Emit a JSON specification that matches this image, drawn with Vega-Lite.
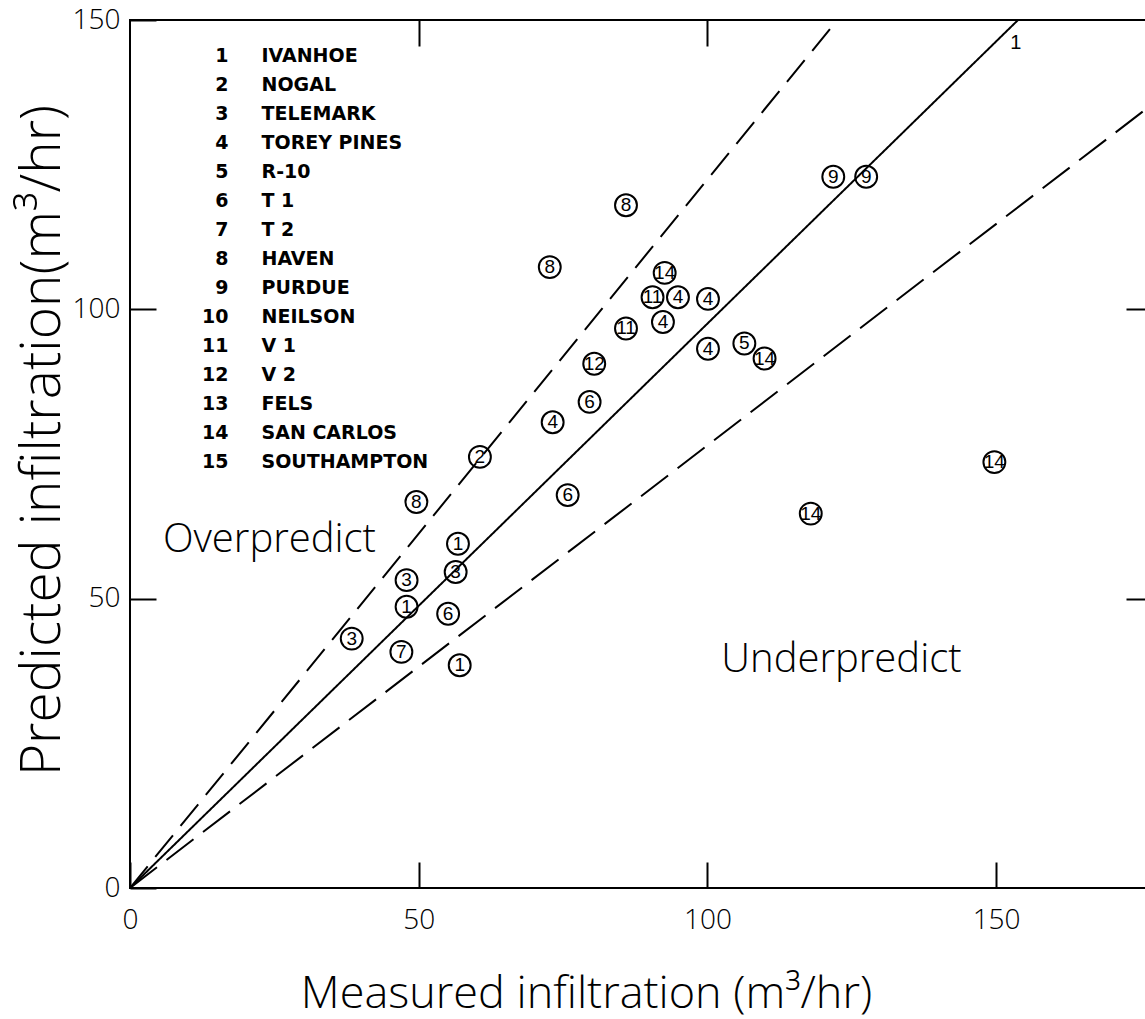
{
  "$schema": "https://vega.github.io/schema/vega-lite/v6.json",
  "width": 1022,
  "height": 868,
  "autosize": {"type": "none"},
  "padding": {"left": 130, "top": 20, "right": 0, "bottom": 131},
  "background": "white",
  "config": {
    "view": {"stroke": "black", "strokeWidth": 2},
    "axis": {"domain": false, "grid": false, "tickColor": "black", "tickWidth": 2, "labelColor": "black", "titleColor": "black", "labelFont": "Open Sans", "titleFont": "Open Sans", "labelFontWeight": 300, "titleFontWeight": 300}
  },
  "datasets": {
    "pts": [
      {"site": 8, "name": "HAVEN", "measured": 85.9, "predicted": 118.0},
      {"site": 8, "name": "HAVEN", "measured": 72.7, "predicted": 107.3},
      {"site": 9, "name": "PURDUE", "measured": 121.8, "predicted": 122.9},
      {"site": 9, "name": "PURDUE", "measured": 127.5, "predicted": 122.9},
      {"site": 14, "name": "SAN CARLOS", "measured": 92.6, "predicted": 106.3},
      {"site": 11, "name": "V 1", "measured": 90.5, "predicted": 102.1},
      {"site": 4, "name": "TOREY PINES", "measured": 94.9, "predicted": 102.1},
      {"site": 4, "name": "TOREY PINES", "measured": 100.1, "predicted": 101.8},
      {"site": 4, "name": "TOREY PINES", "measured": 92.3, "predicted": 97.8},
      {"site": 11, "name": "V 1", "measured": 85.9, "predicted": 96.7},
      {"site": 4, "name": "TOREY PINES", "measured": 100.1, "predicted": 93.2},
      {"site": 5, "name": "R-10", "measured": 106.4, "predicted": 94.1},
      {"site": 14, "name": "SAN CARLOS", "measured": 109.9, "predicted": 91.5},
      {"site": 12, "name": "V 2", "measured": 80.4, "predicted": 90.6},
      {"site": 6, "name": "T 1", "measured": 79.6, "predicted": 84.0},
      {"site": 4, "name": "TOREY PINES", "measured": 73.2, "predicted": 80.5},
      {"site": 2, "name": "NOGAL", "measured": 60.6, "predicted": 74.5},
      {"site": 6, "name": "T 1", "measured": 75.8, "predicted": 67.9},
      {"site": 8, "name": "HAVEN", "measured": 49.6, "predicted": 66.7},
      {"site": 14, "name": "SAN CARLOS", "measured": 149.7, "predicted": 73.6},
      {"site": 14, "name": "SAN CARLOS", "measured": 117.9, "predicted": 64.7},
      {"site": 1, "name": "IVANHOE", "measured": 56.8, "predicted": 59.5},
      {"site": 3, "name": "TELEMARK", "measured": 56.4, "predicted": 54.6},
      {"site": 3, "name": "TELEMARK", "measured": 47.9, "predicted": 53.2},
      {"site": 1, "name": "IVANHOE", "measured": 47.9, "predicted": 48.6},
      {"site": 6, "name": "T 1", "measured": 55.1, "predicted": 47.4},
      {"site": 3, "name": "TELEMARK", "measured": 38.4, "predicted": 43.1},
      {"site": 7, "name": "T 2", "measured": 47.0, "predicted": 40.8},
      {"site": 1, "name": "IVANHOE", "measured": 57.1, "predicted": 38.5}
    ],
    "lines": [
      {"line": "equal", "measured": 0, "predicted": 0},
      {"line": "equal", "measured": 153.8, "predicted": 150},
      {"line": "over", "measured": 0, "predicted": 0},
      {"line": "over", "measured": 122.5, "predicted": 150},
      {"line": "under", "measured": 0, "predicted": 0},
      {"line": "under", "measured": 177, "predicted": 135.4}
    ],
    "notes": [
      {"text": "Overpredict", "measured": 5.7, "predicted": 60.1},
      {"text": "Underpredict", "measured": 102.4, "predicted": 39.4}
    ],
    "linelabel": [
      {"text": "1", "measured": 153.4, "predicted": 146.0}
    ]
  },
  "layer": [
    {
      "data": {"name": "lines"},
      "mark": {"type": "line", "color": "black", "strokeWidth": 2, "clip": true},
      "encoding": {
        "x": {"field": "measured", "type": "quantitative", "scale": {"domain": [0, 177], "nice": false}, "axis": null},
        "y": {"field": "predicted", "type": "quantitative", "scale": {"domain": [0, 150], "nice": false}, "axis": null},
        "detail": {"field": "line"},
        "strokeDash": {"field": "line", "type": "nominal", "scale": {"domain": ["equal", "over", "under"], "range": [[1, 0], [28, 12], [34, 12]]}, "legend": null}
      }
    },
    {
      "data": {"name": "pts"},
      "mark": {"type": "point", "shape": "circle", "filled": false, "size": 480, "strokeWidth": 2, "opacity": 1},
      "encoding": {
        "x": {"field": "measured", "type": "quantitative", "scale": {"domain": [0, 177], "nice": false},
          "axis": {"orient": "bottom", "values": [0, 50, 100, 150], "offset": -26, "tickSize": 26, "labelPadding": 18, "labelFlush": false, "labelFontSize": 28, "title": "Measured infiltration (m³/hr)", "titleFontSize": 45, "titleX": 456, "titleY": 145, "titleBaseline": "alphabetic", "titleAlign": "center", "titleAnchor": null}},
        "y": {"field": "predicted", "type": "quantitative", "scale": {"domain": [0, 150], "nice": false},
          "axis": {"orient": "left", "values": [0, 50, 100, 150], "offset": -26, "tickSize": 26, "labelPadding": 10, "labelFontSize": 28, "title": "Predicted infiltration(m³/hr)", "titleFontSize": 55, "titleX": -97, "titleY": 420, "titleAngle": -90, "titleBaseline": "alphabetic", "titleAlign": "center", "titleAnchor": null}},
        "color": {"field": "name", "type": "nominal",
          "scale": {"domain": ["IVANHOE", "NOGAL", "TELEMARK", "TOREY PINES", "R-10", "T 1", "T 2", "HAVEN", "PURDUE", "NEILSON", "V 1", "V 2", "FELS", "SAN CARLOS", "SOUTHAMPTON"], "range": ["black"]},
          "legend": {"orient": "none", "legendX": 53, "legendY": 26, "title": null, "padding": 0, "symbolOpacity": 0, "symbolSize": 1, "symbolStrokeWidth": 0, "labelOffset": 0, "rowPadding": 9, "labelFont": "DejaVu Sans", "labelFontSize": 19, "labelFontWeight": "bold", "labelColor": "black", "labelLimit": 400,
            "labelExpr": "'\u200b' + (indexof(domain('color'), datum.value) < 9 ? '\u00a0\u00a0' : '') + (indexof(domain('color'), datum.value) + 1) + '\u00a0\u00a0\u00a0\u00a0\u00a0' + datum.value"}}
      }
    },
    {
      "data": {"name": "pts"},
      "mark": {"type": "text", "font": "Liberation Sans", "fontSize": 19, "align": "center", "baseline": "middle", "color": "black"},
      "encoding": {
        "x": {"field": "measured", "type": "quantitative", "scale": {"domain": [0, 177], "nice": false}, "axis": null},
        "y": {"field": "predicted", "type": "quantitative", "scale": {"domain": [0, 150], "nice": false}, "axis": null},
        "text": {"field": "site"}
      }
    },
    {
      "data": {"name": "notes"},
      "mark": {"type": "text", "font": "Open Sans", "fontWeight": 300, "fontSize": 40, "align": "left", "baseline": "middle", "color": "black"},
      "encoding": {
        "x": {"field": "measured", "type": "quantitative", "scale": {"domain": [0, 177], "nice": false},
          "axis": {"orient": "top", "values": [50, 100], "offset": -26, "tickSize": 26, "labels": false, "title": null}},
        "y": {"field": "predicted", "type": "quantitative", "scale": {"domain": [0, 150], "nice": false},
          "axis": {"orient": "right", "values": [50, 100], "offset": -26, "tickSize": 26, "labels": false, "title": null}},
        "text": {"field": "text"}
      }
    },
    {
      "data": {"name": "linelabel"},
      "mark": {"type": "text", "font": "Liberation Sans", "fontSize": 20, "align": "center", "baseline": "middle", "color": "black"},
      "encoding": {
        "x": {"field": "measured", "type": "quantitative", "scale": {"domain": [0, 177], "nice": false}, "axis": null},
        "y": {"field": "predicted", "type": "quantitative", "scale": {"domain": [0, 150], "nice": false}, "axis": null},
        "text": {"field": "text"}
      }
    }
  ],
  "resolve": {"axis": {"x": "independent", "y": "independent"}}
}
